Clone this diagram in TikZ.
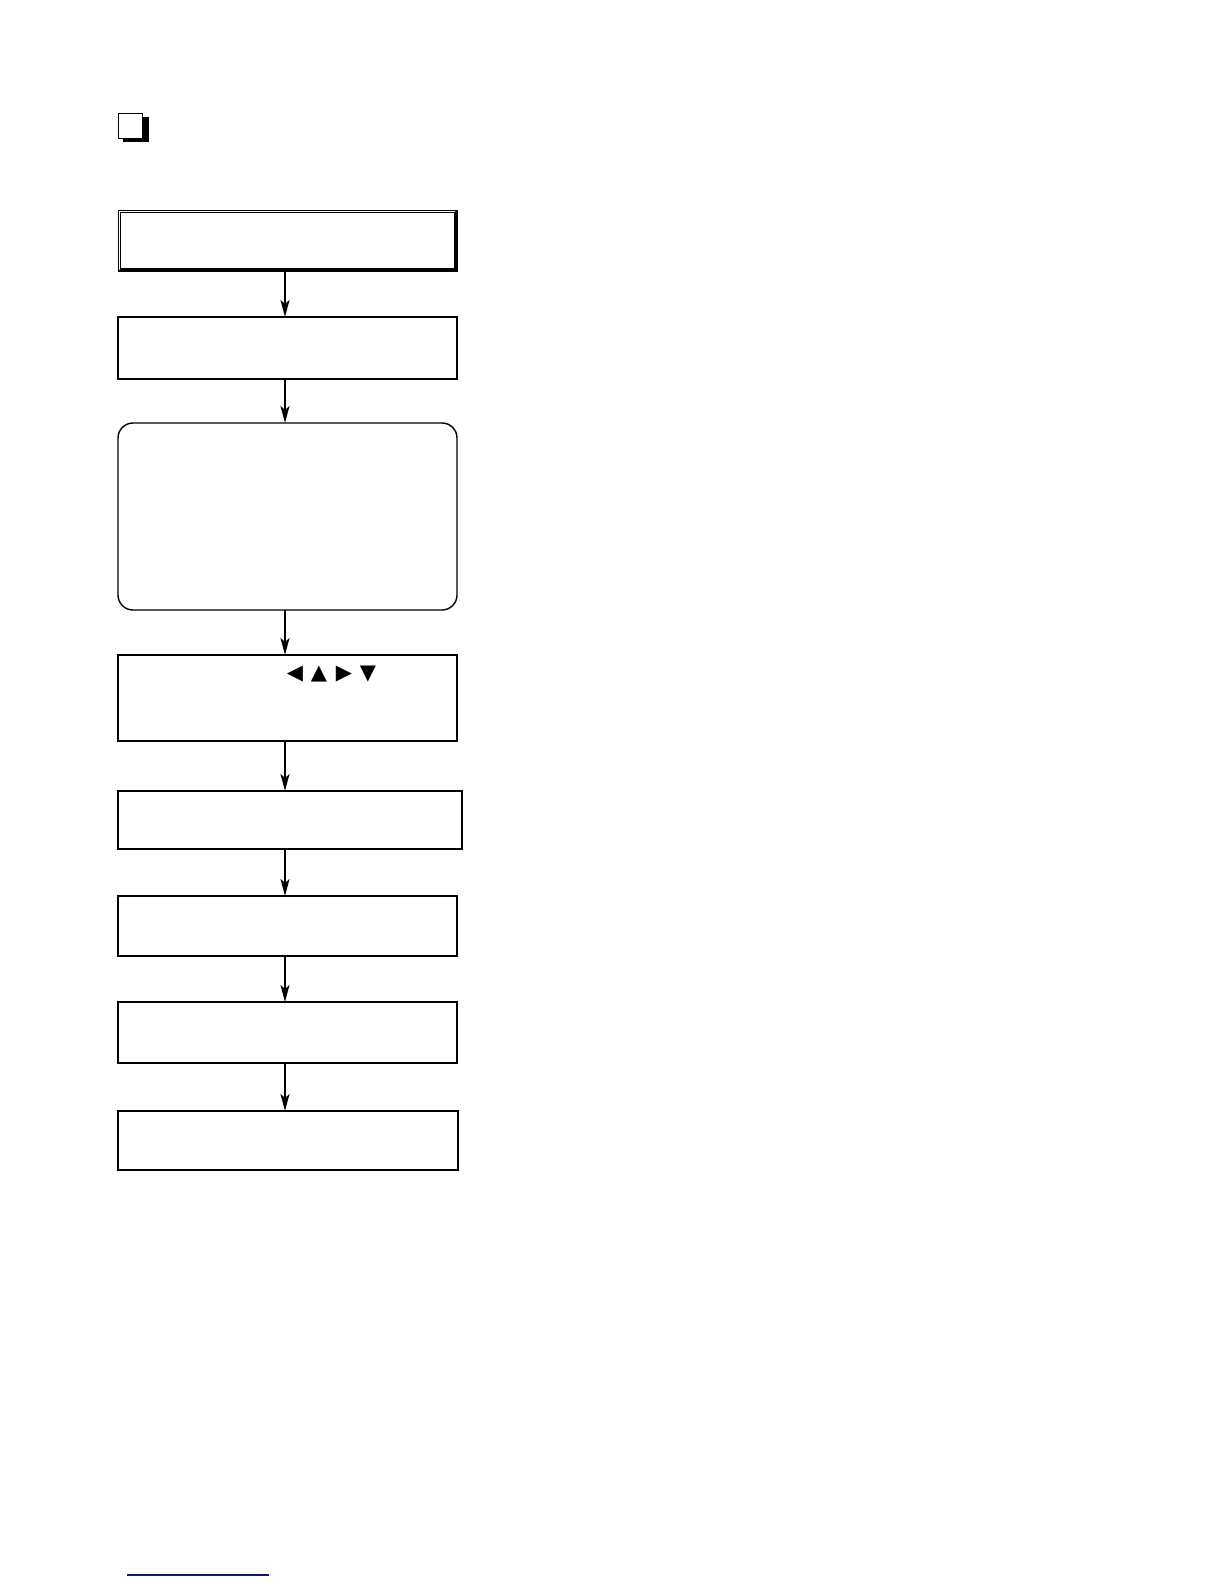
\documentclass[tikz,border=0pt]{standalone}
\usepackage{fontspec}
\newfontfamily\symfont{DejaVu Sans}
\usetikzlibrary{arrows.meta}
\definecolor{navyline}{RGB}{20,20,130}
\tikzset{
  flowbox/.style={draw, line width=1.4pt, inner sep=0pt, outer sep=0pt},
  flowarrow/.style={line width=1.5pt, -{Stealth[length=17pt,width=9pt,inset=4pt]}},
  tri/.style={inner sep=0pt, font=\symfont\fontsize{21pt}{21pt}\selectfont}
}
\begin{document}
\begin{tikzpicture}[x=1pt,y=-1pt]
\useasboundingbox[fill=white] (0,0) rectangle (1224,1584);
% icon
\fill[black] (123,117) rectangle (148.5,142);
\draw[fill=white, line width=1pt] (118.5,113.5) rectangle (142.5,138.2);
% boxes
\node[flowbox, line width=1pt, minimum width=339pt, minimum height=61pt] (b1) at (287.5,240.5) {};
\draw[line width=1pt] (120.8,212.3) rectangle (454.6,268.6);
\fill[black] (454.6,212.3) -- (457,210) -- (457,271) -- (118,271) -- (120.8,268.6) -- (454.6,268.6) -- cycle;
\node[flowbox, minimum width=339pt, minimum height=62pt] (b2) at (287.5,348) {};
\node[flowbox, rounded corners=15pt, minimum width=339pt, minimum height=187pt] (b3) at (287.5,516.5) {};
\node[flowbox, minimum width=339pt, minimum height=86pt] (b4) at (287.5,698) {};
\node[flowbox, minimum width=344pt, minimum height=58pt] (b5) at (290,820) {};
\node[flowbox, minimum width=339pt, minimum height=60pt] (b6) at (287.5,926) {};
\node[flowbox, minimum width=339pt, minimum height=61pt] (b7) at (287.5,1032.5) {};
\node[flowbox, minimum width=340pt, minimum height=59pt] (b8) at (288,1140.5) {};
% triangles
\node[tri] (t1) at (295,674) {◀};
\node[tri] (t2) at (319,674) {▲};
\node[tri] (t3) at (344,674) {▶};
\node[tri] (t4) at (368,674) {▼};
% arrows
\coordinate (axis) at (285,0);
\draw[flowarrow] (axis |- b1.south) -- (axis |- b2.north);
\draw[flowarrow] (axis |- b2.south) -- (axis |- b3.north);
\draw[flowarrow] (axis |- b3.south) -- (axis |- b4.north);
\draw[flowarrow] (axis |- b4.south) -- (axis |- b5.north);
\draw[flowarrow] (axis |- b5.south) -- (axis |- b6.north);
\draw[flowarrow] (axis |- b6.south) -- (axis |- b7.north);
\draw[flowarrow] (axis |- b7.south) -- (axis |- b8.north);
% bottom line
\draw[navyline, line width=1.5pt] (127,1575) -- (269,1575);
\end{tikzpicture}
\end{document}
